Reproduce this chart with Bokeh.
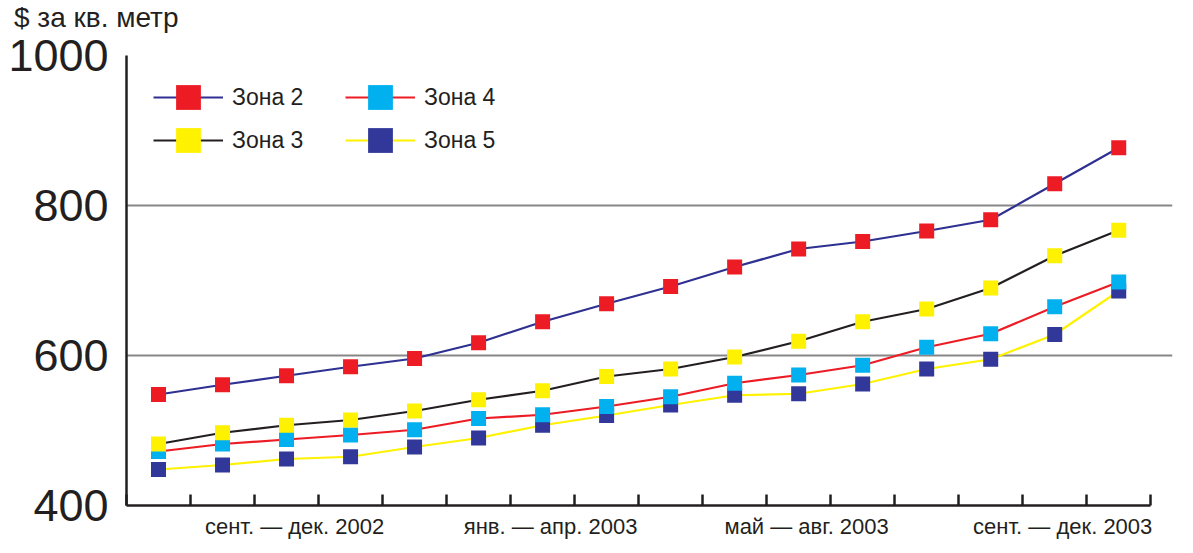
from bokeh.plotting import figure
from bokeh.layouts import column
from bokeh.models import Range1d, FixedTicker, Legend, LegendItem, Grid, Div
from bokeh.embed import file_html
from bokeh.resources import INLINE

# Monthly asking prices, $ per sq. metre, September 2002 - December 2003
period_labels = ["сент. — дек. 2002", "янв. — апр. 2003",
                 "май — авг. 2003", "сент. — дек. 2003"]
zone_names = ["Зона 2", "Зона 3", "Зона 4", "Зона 5"]
zone2 = [548, 561, 573, 585, 596, 617, 645, 669, 692, 718, 742, 752, 766, 781, 829, 877]
zone3 = [482, 497, 507, 514, 526, 541, 553, 572, 582, 598, 619, 645, 662, 690, 733, 767]
zone4 = [472, 482, 488, 494, 501, 516, 521, 532, 545, 563, 574, 587, 611, 629, 665, 698]
zone5 = [448, 454, 462, 465, 478, 490, 507, 520, 534, 547, 549, 562, 582, 595, 628, 686]
y_ticks = [400, 600, 800, 1000]

FONT = "Liberation Sans"
INK = "#231f20"

n = len(zone2)
xs = [i + 0.5 for i in range(n)]
per_group = n // len(period_labels)

# unit caption above the value axis
caption = Div(text="$ за кв. метр", width=400, height=28,
              styles={"font-family": FONT, "font-size": "28px", "line-height": "28px",
                      "color": INK, "padding-left": "14px", "margin": "0",
                      "position": "relative", "top": "4px", "overflow": "visible",
                      "z-index": "1"})

p = figure(frame_width=1046, frame_height=450,
           x_range=Range1d(0, n + 0.34), y_range=Range1d(y_ticks[0], y_ticks[-1]),
           output_backend="svg", toolbar_location=None,
           min_border_left=126, min_border_right=21,
           min_border_top=27, min_border_bottom=45)
p.outline_line_color = None
p.background_fill_color = "white"
p.border_fill_color = "white"
p.border_fill_alpha = 0

# grid: grey lines inside, dark line on top
p.xgrid.visible = False
p.ygrid.ticker = FixedTicker(ticks=y_ticks[1:-1])
p.ygrid.grid_line_color = "#878787"
p.ygrid.grid_line_width = 2
p.add_layout(Grid(dimension=1, ticker=FixedTicker(ticks=y_ticks[-1:]),
                  grid_line_color=INK, grid_line_width=2))

# y axis
p.yaxis.ticker = FixedTicker(ticks=y_ticks)
p.yaxis.major_tick_in = 0
p.yaxis.major_tick_out = 0
p.yaxis.minor_tick_line_color = None
p.yaxis.major_label_text_font = FONT
p.yaxis.major_label_text_font_size = "45px"
p.yaxis.major_label_text_color = INK
p.yaxis.major_label_standoff = 18
p.yaxis.axis_line_width = 2.5
p.yaxis.axis_line_color = INK

# x axis: month ticks, one label per four-month period
label_pos = [g * per_group + per_group / 2 + 0.625 for g in range(len(period_labels))]
p.xaxis.ticker = FixedTicker(ticks=label_pos, minor_ticks=list(range(n + 1)))
p.xaxis.major_label_overrides = {pos: lab for pos, lab in zip(label_pos, period_labels)}
p.xaxis.bounds = (0, n)
p.xaxis.major_tick_line_color = None
p.xaxis.major_tick_in = 0
p.xaxis.major_tick_out = 0
p.xaxis.minor_tick_in = 11
p.xaxis.minor_tick_out = 0
p.xaxis.minor_tick_line_width = 2.5
p.xaxis.minor_tick_line_color = INK
p.xaxis.major_label_text_font = FONT
p.xaxis.major_label_text_font_size = "22px"
p.xaxis.major_label_text_color = INK
p.xaxis.major_label_standoff = 8
p.xaxis.axis_line_width = 2.5
p.xaxis.axis_line_color = INK

series = {
    "Зона 2": (zone2, "#2e3192", "#ed1c24"),
    "Зона 3": (zone3, INK, "#fff200"),
    "Зона 4": (zone4, "#ed1c24", "#00b0ef"),
    "Зона 5": (zone5, "#fff200", "#32379a"),
}

renderers = {}
for name in reversed(zone_names):
    vals, line_col, mark_col = series[name]
    ln = p.line(xs, vals, line_color=line_col, line_width=2.2)
    mk = p.scatter(xs, vals, marker="square", size=15,
                   fill_color=mark_col, line_color=None)
    renderers[name] = [ln, mk]

# legend laid out as two rows of two entries each
legend_rows = [(zone_names[0], zone_names[2]), (zone_names[1], zone_names[3])]
row_bottoms = [377, 334]
for row, bottom in zip(legend_rows, row_bottoms):
    p.add_layout(Legend(
        items=[LegendItem(label=name, renderers=renderers[name]) for name in row],
        location=(27, bottom), orientation="horizontal",
        glyph_width=70, glyph_height=62, spacing=0,
        label_standoff=9, label_width=113,
        label_text_font=FONT, label_text_font_size="23px", label_text_color=INK,
        padding=0, margin=0, border_line_color=None, background_fill_alpha=0,
    ))

# thin grey rule along the bottom of the page
rule = Div(text="", width=1193, height=2,
           styles={"background-color": "#9a9a9a"})

open("out.html", "w").write(file_html(column(caption, p, rule, spacing=0), INLINE))
